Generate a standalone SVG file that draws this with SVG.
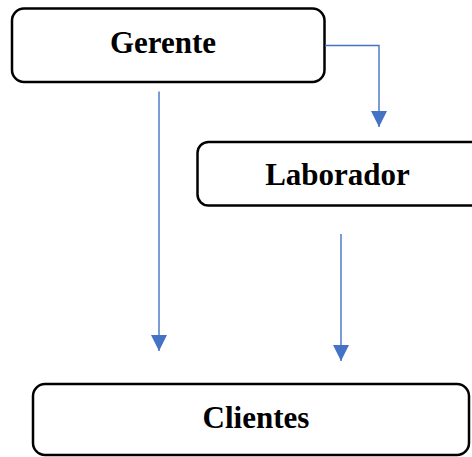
<svg xmlns="http://www.w3.org/2000/svg" width="472" height="457" viewBox="0 0 472 457">
  <defs>
    <style>
      .box { fill: #ffffff; stroke: #000000; stroke-width: 2.5; }
      .label { font-family: "Liberation Serif", "Times New Roman", serif; font-weight: bold; font-size: 31px; fill: #000000; text-anchor: middle; }
      .link { fill: none; stroke: #4472C4; stroke-width: 1.4; }
    </style>
    <marker id="arrow" viewBox="0 0 16 16" refX="16" refY="8" markerWidth="16" markerHeight="16" markerUnits="userSpaceOnUse" orient="auto">
      <path d="M0,0 L16,8 L0,16 Z" fill="#4472C4"/>
    </marker>
  </defs>

  <g id="gerente">
    <rect class="box" x="12" y="8.5" width="312.5" height="73.5" rx="12" ry="12"/>
    <text class="label" x="163" y="53">Gerente</text>
  </g>

  <g id="laborador">
    <rect class="box" x="197.5" y="142" width="290" height="63.5" rx="11" ry="11"/>
    <text class="label" x="337.5" y="185">Laborador</text>
  </g>

  <g id="clientes">
    <rect class="box" x="33" y="384" width="436" height="71" rx="12" ry="12"/>
    <text class="label" x="256" y="428">Clientes</text>
  </g>

  <g id="connectors">
    <path class="link" d="M325,45.5 H379 V127" marker-end="url(#arrow)"/>
    <path class="link" d="M159,91.5 V351" marker-end="url(#arrow)"/>
    <path class="link" d="M341,234 V361" marker-end="url(#arrow)"/>
  </g>
</svg>
